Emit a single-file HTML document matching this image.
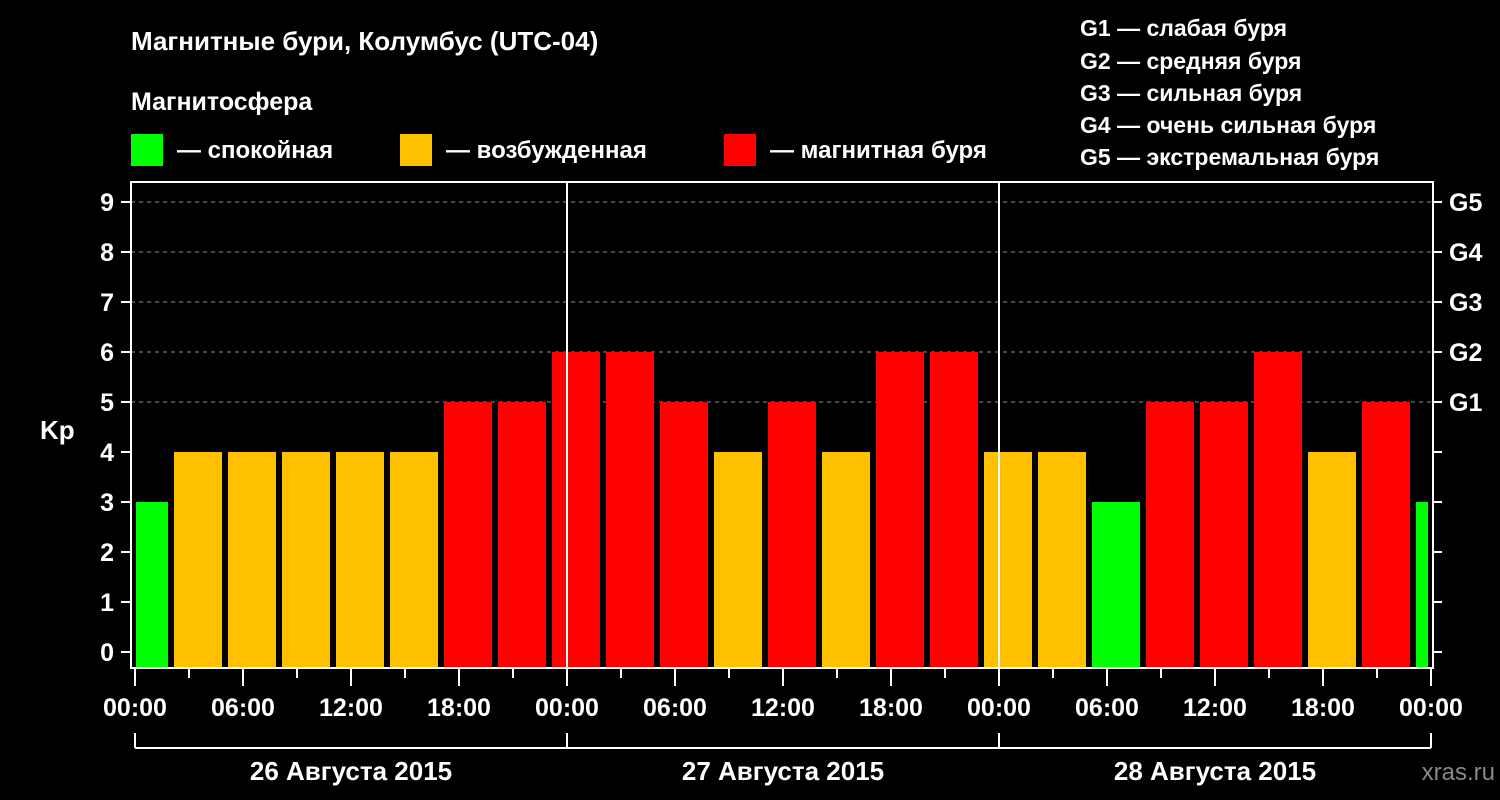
<!DOCTYPE html>
<html><head><meta charset="utf-8"><style>
body{margin:0;background:#000;width:1500px;height:800px;overflow:hidden}
svg{display:block;font-family:"Liberation Sans",Arial,sans-serif;font-weight:bold}
</style></head><body>
<svg id="c" width="1500" height="800" xmlns="http://www.w3.org/2000/svg">
<text x="131" y="50" fill="#fff" font-size="26">Магнитные бури, Колумбус (UTC-04)</text>
<text x="131" y="110" fill="#fff" font-size="25">Магнитосфера</text>
<g><rect x="131" y="134" width="32" height="32" fill="#00ff00"/><text x="177" y="158" fill="#fff" font-size="24">— спокойная</text></g>
<g><rect x="400" y="134" width="32" height="32" fill="#ffc000"/><text x="446" y="158" fill="#fff" font-size="24">— возбужденная</text></g>
<g><rect x="724" y="134" width="32" height="32" fill="#ff0000"/><text x="770" y="158" fill="#fff" font-size="24">— магнитная буря</text></g>
<g fill="#fff" font-size="23">
<text x="1080" y="36">G1 — слабая буря</text>
<text x="1080" y="69">G2 — средняя буря</text>
<text x="1080" y="101">G3 — сильная буря</text>
<text x="1080" y="133">G4 — очень сильная буря</text>
<text x="1080" y="165">G5 — экстремальная буря</text>
</g>
<text x="40" y="439" fill="#fff" font-size="26">Kp</text>
<text x="1495" y="780" fill="#888" font-size="24" text-anchor="end" font-weight="normal">xras.ru</text>
<g id="grid"></g><g id="bars"></g><g id="axes"></g>
</svg>
<script>
const kpValues=[3,4,4,4,4,4,5,5,6,6,5,4,5,4,6,6,4,4,3,5,5,6,4,5,3];
const yTicks=[0,1,2,3,4,5,6,7,8,9];
const gLabels=["G1","G2","G3","G4","G5"];
const xTickLabels=["00:00","06:00","12:00","18:00","00:00","06:00","12:00","18:00","00:00","06:00","12:00","18:00","00:00"];
const dayLabels=["26 Августа 2015","27 Августа 2015","28 Августа 2015"];
const firstSlotHour=-1, slotHours=3;
const X0=135,PXH=18,Y0=652,PXU=50,L=131,R=1433,T=182,B=668;
const xs=h=>X0+h*PXH, ys=v=>Y0-v*PXU;
const NS="http://www.w3.org/2000/svg";
function mk(p,t,a){const e=document.createElementNS(NS,t);for(const k in a)e.setAttribute(k,a[k]);document.getElementById(p).appendChild(e);return e;}
yTicks.forEach(v=>{if(v>=5){const g=mk('grid','line',{x1:L,x2:R,y1:ys(v),y2:ys(v),stroke:'#888','stroke-dasharray':'4,4'});

}});
kpValues.forEach((v,i)=>{const h0=firstSlotHour+i*slotHours;let x1=xs(h0)+3,x2=xs(h0+slotHours)-3;x1=Math.max(x1,136);x2=Math.min(x2,1428);
const c=v<4?'#00ff00':(v<5?'#ffc000':'#ff0000');
const r=mk('bars','rect',{x:x1,y:ys(v),width:x2-x1,height:B-1-ys(v),fill:c});

});
[1,2].forEach(d=>{const l=mk('axes','line',{x1:xs(d*24),x2:xs(d*24),y1:T,y2:B,stroke:'#fff','stroke-width':2});

});
mk('axes','path',{d:`M${L},${T}H${R}V${B}H${L}Z`,fill:'none',stroke:'#fff','stroke-width':2});
yTicks.forEach(v=>{mk('axes','line',{x1:121,x2:L,y1:ys(v),y2:ys(v),stroke:'#fff','stroke-width':2});
mk('axes','line',{x1:R,x2:1442,y1:ys(v),y2:ys(v),stroke:'#fff','stroke-width':2});
const t=mk('axes','text',{x:114,y:ys(v)+9,fill:'#fff','font-size':25,'text-anchor':'end'});t.textContent=v;

});
gLabels.forEach((g,i)=>{const t=mk('axes','text',{x:1449,y:ys(5+i)+9,fill:'#fff','font-size':25});t.textContent=g;

});
for(let h=0;h<=72;h+=3){const major=h%6==0;mk('axes','line',{x1:xs(h),x2:xs(h),y1:B,y2:major?686:678,stroke:'#fff','stroke-width':2});}
xTickLabels.forEach((s,i)=>{const t=mk('axes','text',{x:xs(i*6),y:716,fill:'#fff','font-size':25,'text-anchor':'middle'});t.textContent=s;

});
mk('axes','line',{x1:xs(0),x2:xs(72),y1:748,y2:748,stroke:'#fff','stroke-width':2});
for(let d=0;d<=3;d++)mk('axes','line',{x1:xs(d*24),x2:xs(d*24),y1:733,y2:748,stroke:'#fff','stroke-width':2});
dayLabels.forEach((s,i)=>{const t=mk('axes','text',{x:xs(i*24+12),y:780,fill:'#fff','font-size':26,'text-anchor':'middle'});t.textContent=s;

});
</script>
</body></html>
